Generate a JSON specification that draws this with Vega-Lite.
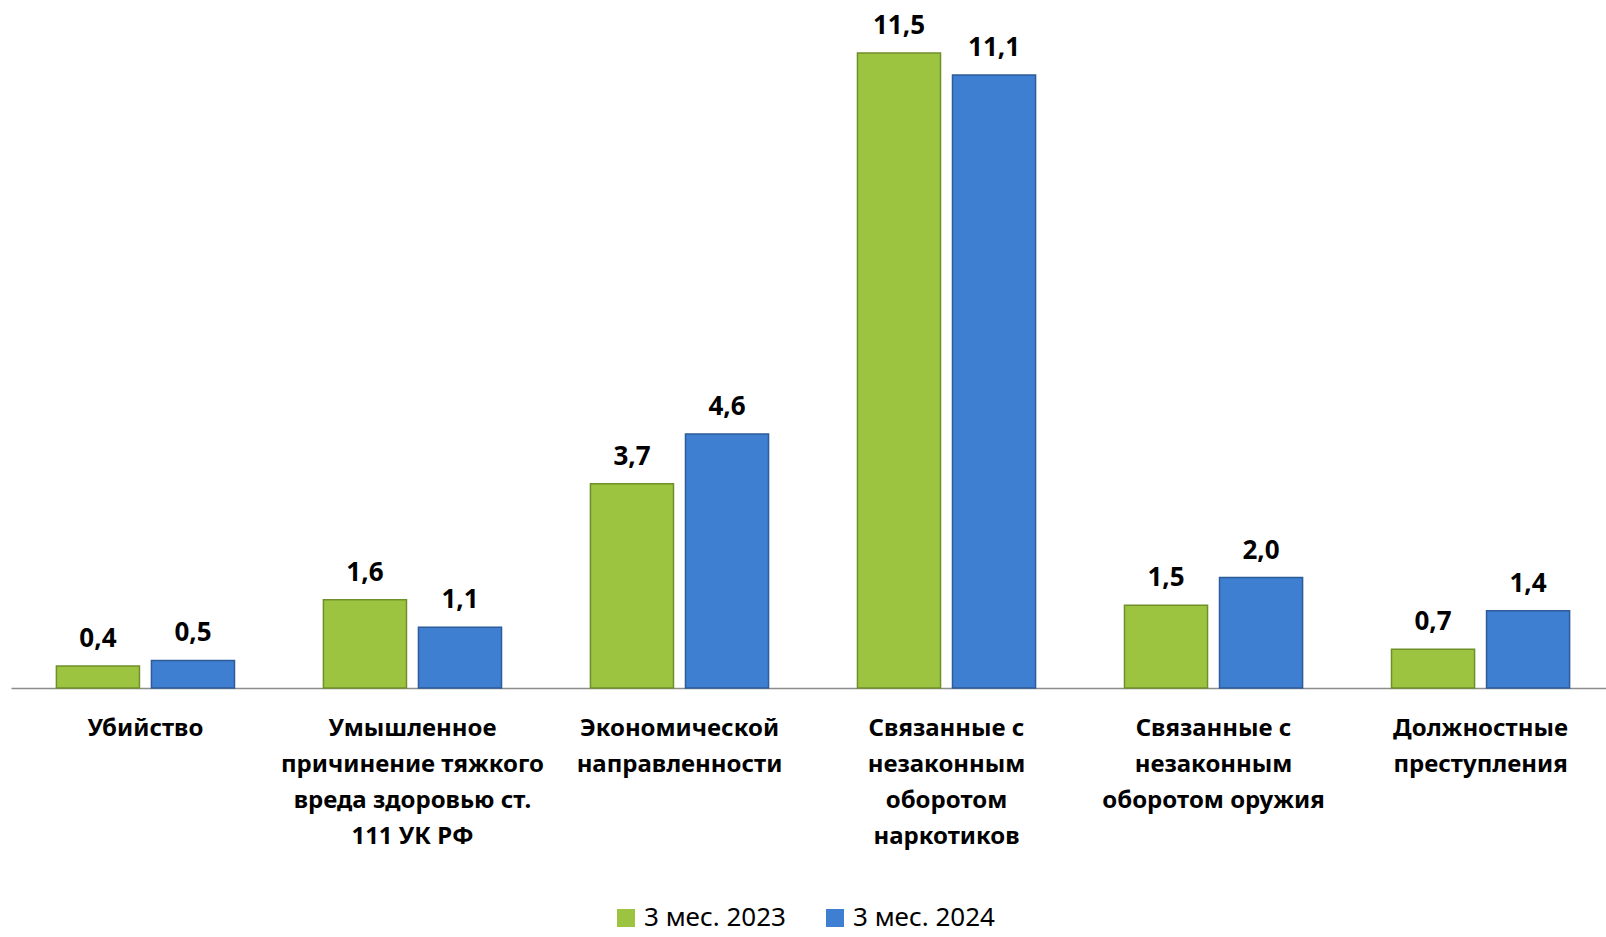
{
  "$schema": "https://vega.github.io/schema/vega-lite/v6.json",
  "autosize": "none",
  "width": 1595,
  "height": 635,
  "padding": {"left": 11, "top": 53, "right": 0, "bottom": 249},
  "background": "white",
  "config": {
    "view": {"stroke": null},
    "locale": {"number": {"decimal": ",", "thousands": " ", "grouping": [3], "currency": ["", ""]}},
    "font": "Noto Sans"
  },
  "data": {
    "values": [
      {"category": "Убийство", "period": "3 мес. 2023", "value": 0.4},
      {"category": "Убийство", "period": "3 мес. 2024", "value": 0.5},
      {"category": "Умышленное причинение тяжкого вреда здоровью ст. 111 УК РФ", "period": "3 мес. 2023", "value": 1.6},
      {"category": "Умышленное причинение тяжкого вреда здоровью ст. 111 УК РФ", "period": "3 мес. 2024", "value": 1.1},
      {"category": "Экономической направленности", "period": "3 мес. 2023", "value": 3.7},
      {"category": "Экономической направленности", "period": "3 мес. 2024", "value": 4.6},
      {"category": "Связанные с незаконным оборотом наркотиков", "period": "3 мес. 2023", "value": 11.5},
      {"category": "Связанные с незаконным оборотом наркотиков", "period": "3 мес. 2024", "value": 11.1},
      {"category": "Связанные с незаконным оборотом оружия", "period": "3 мес. 2023", "value": 1.5},
      {"category": "Связанные с незаконным оборотом оружия", "period": "3 мес. 2024", "value": 2.0},
      {"category": "Должностные преступления", "period": "3 мес. 2023", "value": 0.7},
      {"category": "Должностные преступления", "period": "3 мес. 2024", "value": 1.4}
    ]
  },
  "encoding": {
    "x": {
      "field": "category",
      "type": "nominal",
      "sort": null,
      "scale": {"range": [0, 1604], "paddingInner": 0.333, "paddingOuter": 0.17},
      "axis": {
        "title": null,
        "labelAngle": 0,
        "ticks": false,
        "domainColor": "#8c8c8c",
        "domainWidth": 1.5,
        "labelFontSize": 24,
        "labelFontWeight": "bold",
        "labelColor": "black",
        "labelPadding": 40,
        "labelBaseline": "middle",
        "labelLineHeight": 36,
        "labelLimit": 400,
        "labelExpr": "{'Умышленное причинение тяжкого вреда здоровью ст. 111 УК РФ': ['Умышленное', 'причинение тяжкого', 'вреда здоровью ст.', '111 УК РФ'], 'Экономической направленности': ['Экономической', 'направленности'], 'Связанные с незаконным оборотом наркотиков': ['Связанные с', 'незаконным', 'оборотом', 'наркотиков'], 'Связанные с незаконным оборотом оружия': ['Связанные с', 'незаконным', 'оборотом оружия'], 'Должностные преступления': ['Должностные', 'преступления']}[datum.label] || datum.label"
      }
    },
    "xOffset": {"field": "period", "type": "nominal", "scale": {"paddingInner": 0.126, "paddingOuter": 0}},
    "y": {
      "field": "value",
      "type": "quantitative",
      "scale": {"domain": [0, 11.5], "nice": false},
      "axis": null
    }
  },
  "layer": [
    {
      "mark": {"type": "bar", "strokeWidth": 1.5, "cornerRadius": 0},
      "encoding": {
        "color": {
          "field": "period",
          "type": "nominal",
          "scale": {"domain": ["3 мес. 2023", "3 мес. 2024"], "range": ["#9cc441", "#3e7fd1"]},
          "legend": {
            "title": null,
            "orient": "none",
            "direction": "horizontal",
            "legendX": 602,
            "legendY": 852,
            "symbolType": "square",
            "symbolSize": 324,
            "symbolStrokeWidth": 0,
            "labelFontSize": 26,
            "labelFont": "Noto Sans",
            "labelColor": "black",
            "columnPadding": 36,
            "labelOffset": 5
          }
        },
        "stroke": {
          "field": "period",
          "type": "nominal",
          "scale": {"domain": ["3 мес. 2023", "3 мес. 2024"], "range": ["#6f8f2a", "#2d5c99"]},
          "legend": null
        }
      }
    },
    {
      "mark": {"type": "text", "baseline": "alphabetic", "dy": -19, "fontSize": 26, "fontWeight": "bold", "color": "black"},
      "encoding": {
        "text": {"field": "value", "type": "quantitative", "format": ".1f"}
      }
    }
  ]
}
